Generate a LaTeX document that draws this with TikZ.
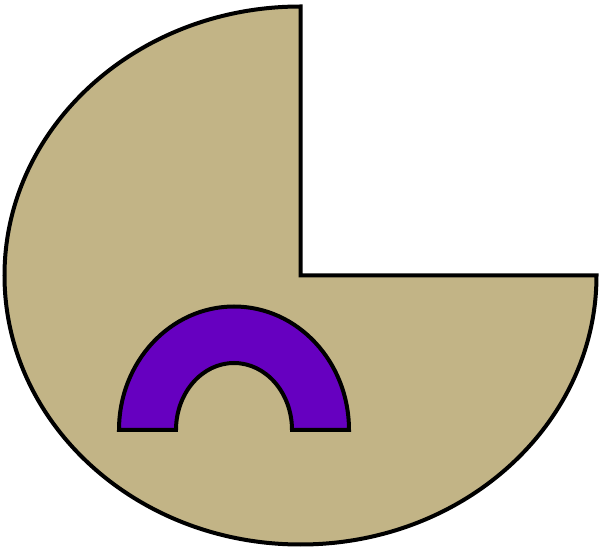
\documentclass[tikz,border=0pt]{standalone}
\begin{document}
\begin{tikzpicture}[x=0.75pt,y=0.75pt,line join=miter]
\definecolor{tan}{RGB}{194,180,134}
\definecolor{violet}{RGB}{102,0,192}
\tikzset{outline/.style={draw=black,line width=3pt}}
\useasboundingbox (0,0) rectangle (600,550);
% big elliptic sector with top-right quarter missing
\path[outline,fill=tan] (300.5,274.5) -- (596.5,274.5)
  arc[start angle=0,end angle=-270,x radius=296,y radius=269] -- cycle;
% half annulus
\path[outline,fill=violet] (119,120)
  arc[start angle=180,end angle=0,x radius=115,y radius=123.5]
  -- (292,120)
  arc[start angle=0,end angle=180,x radius=58,y radius=67] -- cycle;
\end{tikzpicture}
\end{document}
